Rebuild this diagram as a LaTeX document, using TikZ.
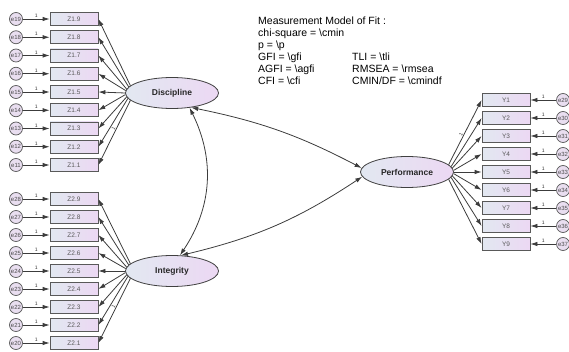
\documentclass[tikz,border=0pt]{standalone}
\usepackage{fontspec}
\setmainfont{Liberation Sans}
\usepackage{xcolor}
\usetikzlibrary{arrows.meta,positioning,shapes.geometric}

\definecolor{shadeleft}{RGB}{226,232,241}
\definecolor{shaderight}{RGB}{236,216,243}
\definecolor{errfill}{RGB}{233,222,240}
\definecolor{linegray}{RGB}{60,60,60}

\begin{document}
\begin{tikzpicture}[
    x=1pt, y=-1pt,
    obs/.style={
        rectangle,
        minimum width=48pt,
        minimum height=13pt,
        inner sep=0pt,
        draw=black!65,
        line width=0.8pt,
        left color=shadeleft,
        right color=shaderight,
        text=black!65,
        font=\fontsize{6.5}{7}\selectfont
    },
    latent/.style={
        ellipse,
        minimum width=93pt,
        minimum height=31pt,
        inner sep=0pt,
        draw=black!75,
        line width=0.8pt,
        left color=shadeleft,
        right color=shaderight,
        text=black!85,
        font=\fontsize{8.5}{10}\selectfont\bfseries
    },
    err/.style={
        circle,
        minimum size=13pt,
        inner sep=0pt,
        draw=black!65,
        line width=0.7pt,
        fill=errfill,
        text=black!70,
        font=\fontsize{6}{7}\selectfont
    },
    fixed/.style={font=\fontsize{5}{5}\selectfont, inner sep=1pt, text=black!80},
    arrow/.style={linegray, line width=0.8pt, -{Latex[length=7pt,width=4.5pt]}},
    cov/.style={linegray, line width=0.8pt, {Latex[length=7pt,width=4.5pt]}-{Latex[length=7pt,width=4.5pt]}}
]
\useasboundingbox (0,0) rectangle (569,352);

% Latent variables
\node[latent] (disc) at (172,93) {Discipline};
\node[latent] (integ) at (172,271) {Integrity};
\node[latent] (perf) at (407,172) {Performance};

% Discipline indicators
\foreach \i [evaluate=\i as \yy using {19+(9-\i)*18.25}, evaluate=\i as \ee using {int(10+\i)}] in {1,...,9} {
    \node[obs] (z1\i) at (74,\yy) {Z1.\i};
    \node[err] (e\ee) at (16,\yy) {e\ee};
    \draw[arrow] (e\ee) -- node[fixed, above, pos=0.5] {1} (z1\i);
    \draw[arrow] (disc.{180-(\i-5)*2.5}) -- (z1\i.east);
}

% Integrity indicators
\foreach \i [evaluate=\i as \yy using {199+(9-\i)*18}, evaluate=\i as \ee using {int(19+\i)}] in {1,...,9} {
    \node[obs] (z2\i) at (74,\yy) {Z2.\i};
    \node[err] (e\ee) at (16,\yy) {e\ee};
    \draw[arrow] (e\ee) -- node[fixed, above, pos=0.5] {1} (z2\i);
    \draw[arrow] (integ.{180-(\i-5)*2.5}) -- (z2\i.east);
}

% Performance indicators
\foreach \i [evaluate=\i as \yy using {100+(\i-1)*18}, evaluate=\i as \ee using {int(28+\i)}] in {1,...,9} {
    \node[obs] (y\i) at (506,\yy) {Y\i};
    \node[err] (e\ee) at (563,\yy) {e\ee};
    \draw[arrow] (e\ee) -- node[fixed, above, pos=0.5] {1} (y\i);
    \draw[arrow] (perf.{(5-\i)*2.5}) -- (y\i.west);
}

% Fixed loadings
\path (disc.{180-(1-5)*2.5}) -- node[fixed, sloped, pos=0.45, above] {1} (z11.east);
\path (integ.{180-(1-5)*2.5}) -- node[fixed, sloped, pos=0.45, above] {1} (z21.east);
\path (perf.{(5-1)*2.5}) -- node[fixed, sloped, pos=0.45, above] {1} (y1.west);

% Covariances
\draw[cov] (disc.-40) to[bend left=30] (integ.63);
\draw[cov] (disc.-37) to[bend left=8] (perf.175);
\draw[cov] (integ.60) to[bend right=10] (perf.186);

% Fit indices
\node[anchor=north west, inner sep=0pt, align=left, font=\fontsize{10.5}{12}\selectfont] (fit) at (258,17) {
    Measurement Model of Fit :\\
    chi-square = \textbackslash cmin\\
    p = \textbackslash p\\
    GFI = \textbackslash gfi\\
    AGFI = \textbackslash agfi\\
    CFI = \textbackslash cfi
};
\node[anchor=north west, inner sep=0pt, align=left, font=\fontsize{10.5}{12}\selectfont] (fit2) at (352,53) {
    TLI = \textbackslash tli\\
    RMSEA = \textbackslash rmsea\\
    CMIN/DF = \textbackslash cmindf
};

\end{tikzpicture}
\end{document}
